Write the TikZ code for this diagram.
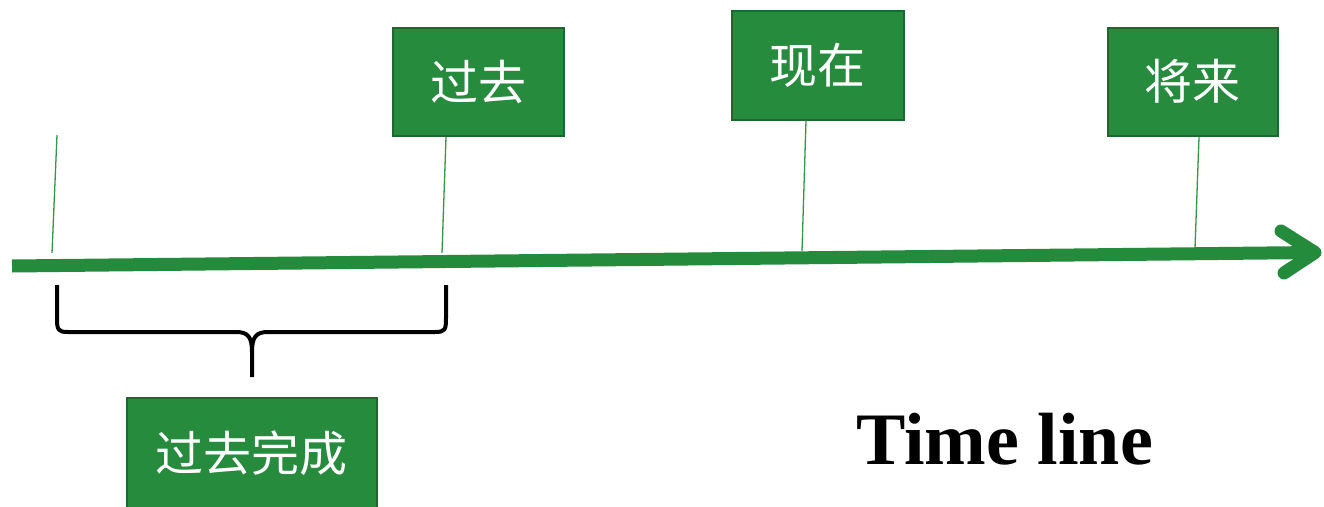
\documentclass[tikz,border=0pt]{standalone}
\usepackage{fontspec}
\setmainfont{Liberation Serif}
\newfontfamily\cjk{Noto Sans CJK SC}
\definecolor{boxgreen}{RGB}{38,139,60}
\definecolor{boxedge}{RGB}{28,104,46}
\definecolor{axisgreen}{RGB}{36,139,60}
\definecolor{tickgreen}{RGB}{52,150,72}
\tikzset{
  tbox/.style={draw=boxedge, line width=2pt, fill=boxgreen, text=white,
    font=\cjk\fontsize{48}{52}\selectfont, inner sep=0pt, anchor=center},
  axisline/.style={draw=axisgreen, line width=13pt},
  tickline/.style={draw=tickgreen, line width=1.3pt},
  bracestyle/.style={draw=black, line width=4pt, line join=round}
}
\begin{document}
\begin{tikzpicture}[x=1pt,y=-1pt]
\useasboundingbox (0,0) rectangle (1324,506);
% boxes
\node[tbox, minimum width=171pt, minimum height=108pt] (past) at (478,81.5) {过去};
\node[tbox, minimum width=172pt, minimum height=109pt] (now) at (817.5,65) {现在};
\node[tbox, minimum width=170pt, minimum height=108pt] (future) at (1192.5,81.5) {将来};
\node[tbox, minimum width=250pt, minimum height=110pt] (perfect) at (251.5,453) {过去完成};
% axis
\coordinate (a0) at (12,266);
\coordinate (a1) at (1315,252.5);
\coordinate (h1) at (1281,231);
\coordinate (h2) at (1284,273);
\draw[axisline] (a0) -- (a1);
\draw[axisline, line cap=round, line join=round] (h1) -- (a1) -- (h2);
% ticks
\coordinate (u0) at (57,135);  \coordinate (b0) at (52,253);
\coordinate (u1) at (446,137); \coordinate (b1) at (442,253);
\coordinate (u2) at (806,121); \coordinate (b2) at (802,251);
\coordinate (u3) at (1199,137);\coordinate (b3) at (1195,248);
\draw[tickline] (u0) -- (b0);
\draw[tickline] (u1) -- (b1);
\draw[tickline] (now.south -| u2) -- (b2);
\draw[tickline] (u3) -- (b3);
% brace
\coordinate (bl) at (57,285);
\coordinate (br) at (446,285);
\coordinate (bm) at (252,377);
\draw[bracestyle] (bl) -- (57,318) .. controls (57,330) and (58,332) .. (68,332) -- (236,332) .. controls (248,332) and (252,337) .. (252,352) -- (bm);
\draw[bracestyle] (br) -- (446,318) .. controls (446,330) and (445,332) .. (435,332) -- (268,332) .. controls (256,332) and (252,337) .. (252,352);
% title
\node[font=\bfseries\fontsize{74}{80}\selectfont, anchor=base west, inner sep=0pt] (title) at (856,464) {Time line};
\end{tikzpicture}
\end{document}
